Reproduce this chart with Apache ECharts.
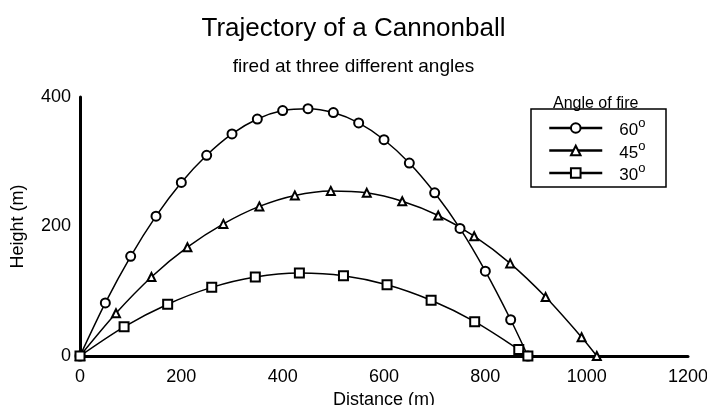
<!DOCTYPE html>
<html>
<head>
<meta charset="utf-8">
<title>Trajectory of a Cannonball</title>
<script src="https://cdn.jsdelivr.net/npm/echarts@6/dist/echarts.min.js"></script>
<style>
  html, body { margin: 0; padding: 0; background: #fff; }
  #chart { width: 707px; height: 405px; }
</style>
</head>
<body>
<div id="chart"></div>
<script>
// 数据: [距离, 高度]
var angles = ['60°', '45°', '30°'];
var xTicks = [0, 200, 400, 600, 800, 1000, 1200];
var yTicks = [0, 200, 400];

var path60 = [
  [0, 0], [50, 82], [100, 154], [150, 216], [200, 268], [250, 310],
  [300, 343], [350, 366], [400, 379], [450, 382], [500, 376], [550, 360],
  [600, 334], [650, 298], [700, 252], [750, 197], [800, 131], [850, 56],
  [884, 0]
];
var path45 = [
  [0, 0], [71, 66], [141, 122], [212, 168], [283, 204], [354, 231],
  [424, 248], [495, 255], [566, 252], [636, 239], [707, 217], [778, 185],
  [849, 143], [919, 91], [990, 29], [1020, 0]
];
var path30 = [
  [0, 0], [87, 45], [173, 80], [260, 106], [346, 122], [433, 128],
  [520, 124], [606, 110], [693, 86], [779, 53], [866, 10], [884, 0]
];

var font = 'Liberation Sans, Arial, Helvetica, sans-serif';
var chart = echarts.init(document.getElementById('chart'));

function makeSeries(name, data, symbol, size) {
  return {
    name: name,
    type: 'line',
    data: data,
    smooth: 0.3,
    symbol: symbol,
    symbolSize: size,
    showAllSymbol: true,
    color: '#000',
    lineStyle: { color: '#000', width: 1.5 },
    itemStyle: { color: '#000', borderWidth: 1.2 },
    emphasis: { disabled: true },
    z: 3
  };
}

chart.setOption({
  animation: false,
  backgroundColor: '#fff',
  textStyle: { fontFamily: font, color: '#000' },
  title: [
    {
      text: 'Trajectory of a Cannonball',
      left: 'center', top: 11,
      textStyle: { fontFamily: font, fontSize: 26, fontWeight: 'normal', color: '#000' }
    },
    {
      text: 'fired at three different angles',
      left: 'center', top: 52,
      textStyle: { fontFamily: font, fontSize: 19, fontWeight: 'normal', color: '#000' }
    }
  ],
  grid: { left: 80, top: 97, width: 608, height: 259, outerBoundsMode: 'none', containLabel: false },
  legend: {
    orient: 'vertical',
    left: 548, top: 117,
    padding: 0,
    itemWidth: 53, itemHeight: 12,
    itemGap: 0.5,
    data: angles,
    lineStyle: { width: 2.5 },
    formatter: function (name) { return '{n|' + name.replace('°', '') + '}{s|o}'; },
    textStyle: {
      fontFamily: font, fontSize: 17, color: '#000', padding: [0, 0, 0, 12],
      rich: {
        n: { fontFamily: font, fontSize: 17, lineHeight: 22, verticalAlign: 'bottom' },
        s: { fontFamily: font, fontSize: 13, lineHeight: 9, verticalAlign: 'top' }
      }
    }
  },
  graphic: [
    {
      type: 'rect',
      shape: { x: 531, y: 109, width: 135, height: 78 },
      style: { fill: 'none', stroke: '#000', lineWidth: 1.5 }
    },
    {
      type: 'text',
      left: 553, top: 96,
      style: { text: 'Angle of fire', font: '16px ' + font, fill: '#000' }
    }
  ],
  xAxis: {
    type: 'value',
    min: 0, max: 1200, interval: 200,
    name: 'Distance (m)', nameLocation: 'middle', nameGap: 34,
    nameTextStyle: { fontFamily: font, fontSize: 18, color: '#000' },
    axisLine: { show: true, lineStyle: { color: '#000', width: 3 } },
    axisTick: { show: false },
    splitLine: { show: false },
    axisLabel: {
      fontFamily: font, fontSize: 18, color: '#000', margin: 12,
      formatter: function (v) { return xTicks.indexOf(v) >= 0 ? String(v) : ''; }
    }
  },
  yAxis: {
    type: 'value',
    min: 0, max: 400, interval: 200,
    name: 'Height (m)', nameLocation: 'middle', nameGap: 53,
    nameTextStyle: { fontFamily: font, fontSize: 18, color: '#000' },
    axisLine: { show: true, lineStyle: { color: '#000', width: 3 } },
    axisTick: { show: false },
    splitLine: { show: false },
    axisLabel: {
      fontFamily: font, fontSize: 18, color: '#000', margin: 9,
      formatter: function (v) { return yTicks.indexOf(v) >= 0 ? String(v) : ''; }
    }
  },
  series: [
    makeSeries(angles[0], path60, 'emptyCircle', 9),
    makeSeries(angles[1], path45, 'emptyTriangle', 8),
    makeSeries(angles[2], path30, 'emptyRect', 9)
  ]
});
</script>
</body>
</html>
